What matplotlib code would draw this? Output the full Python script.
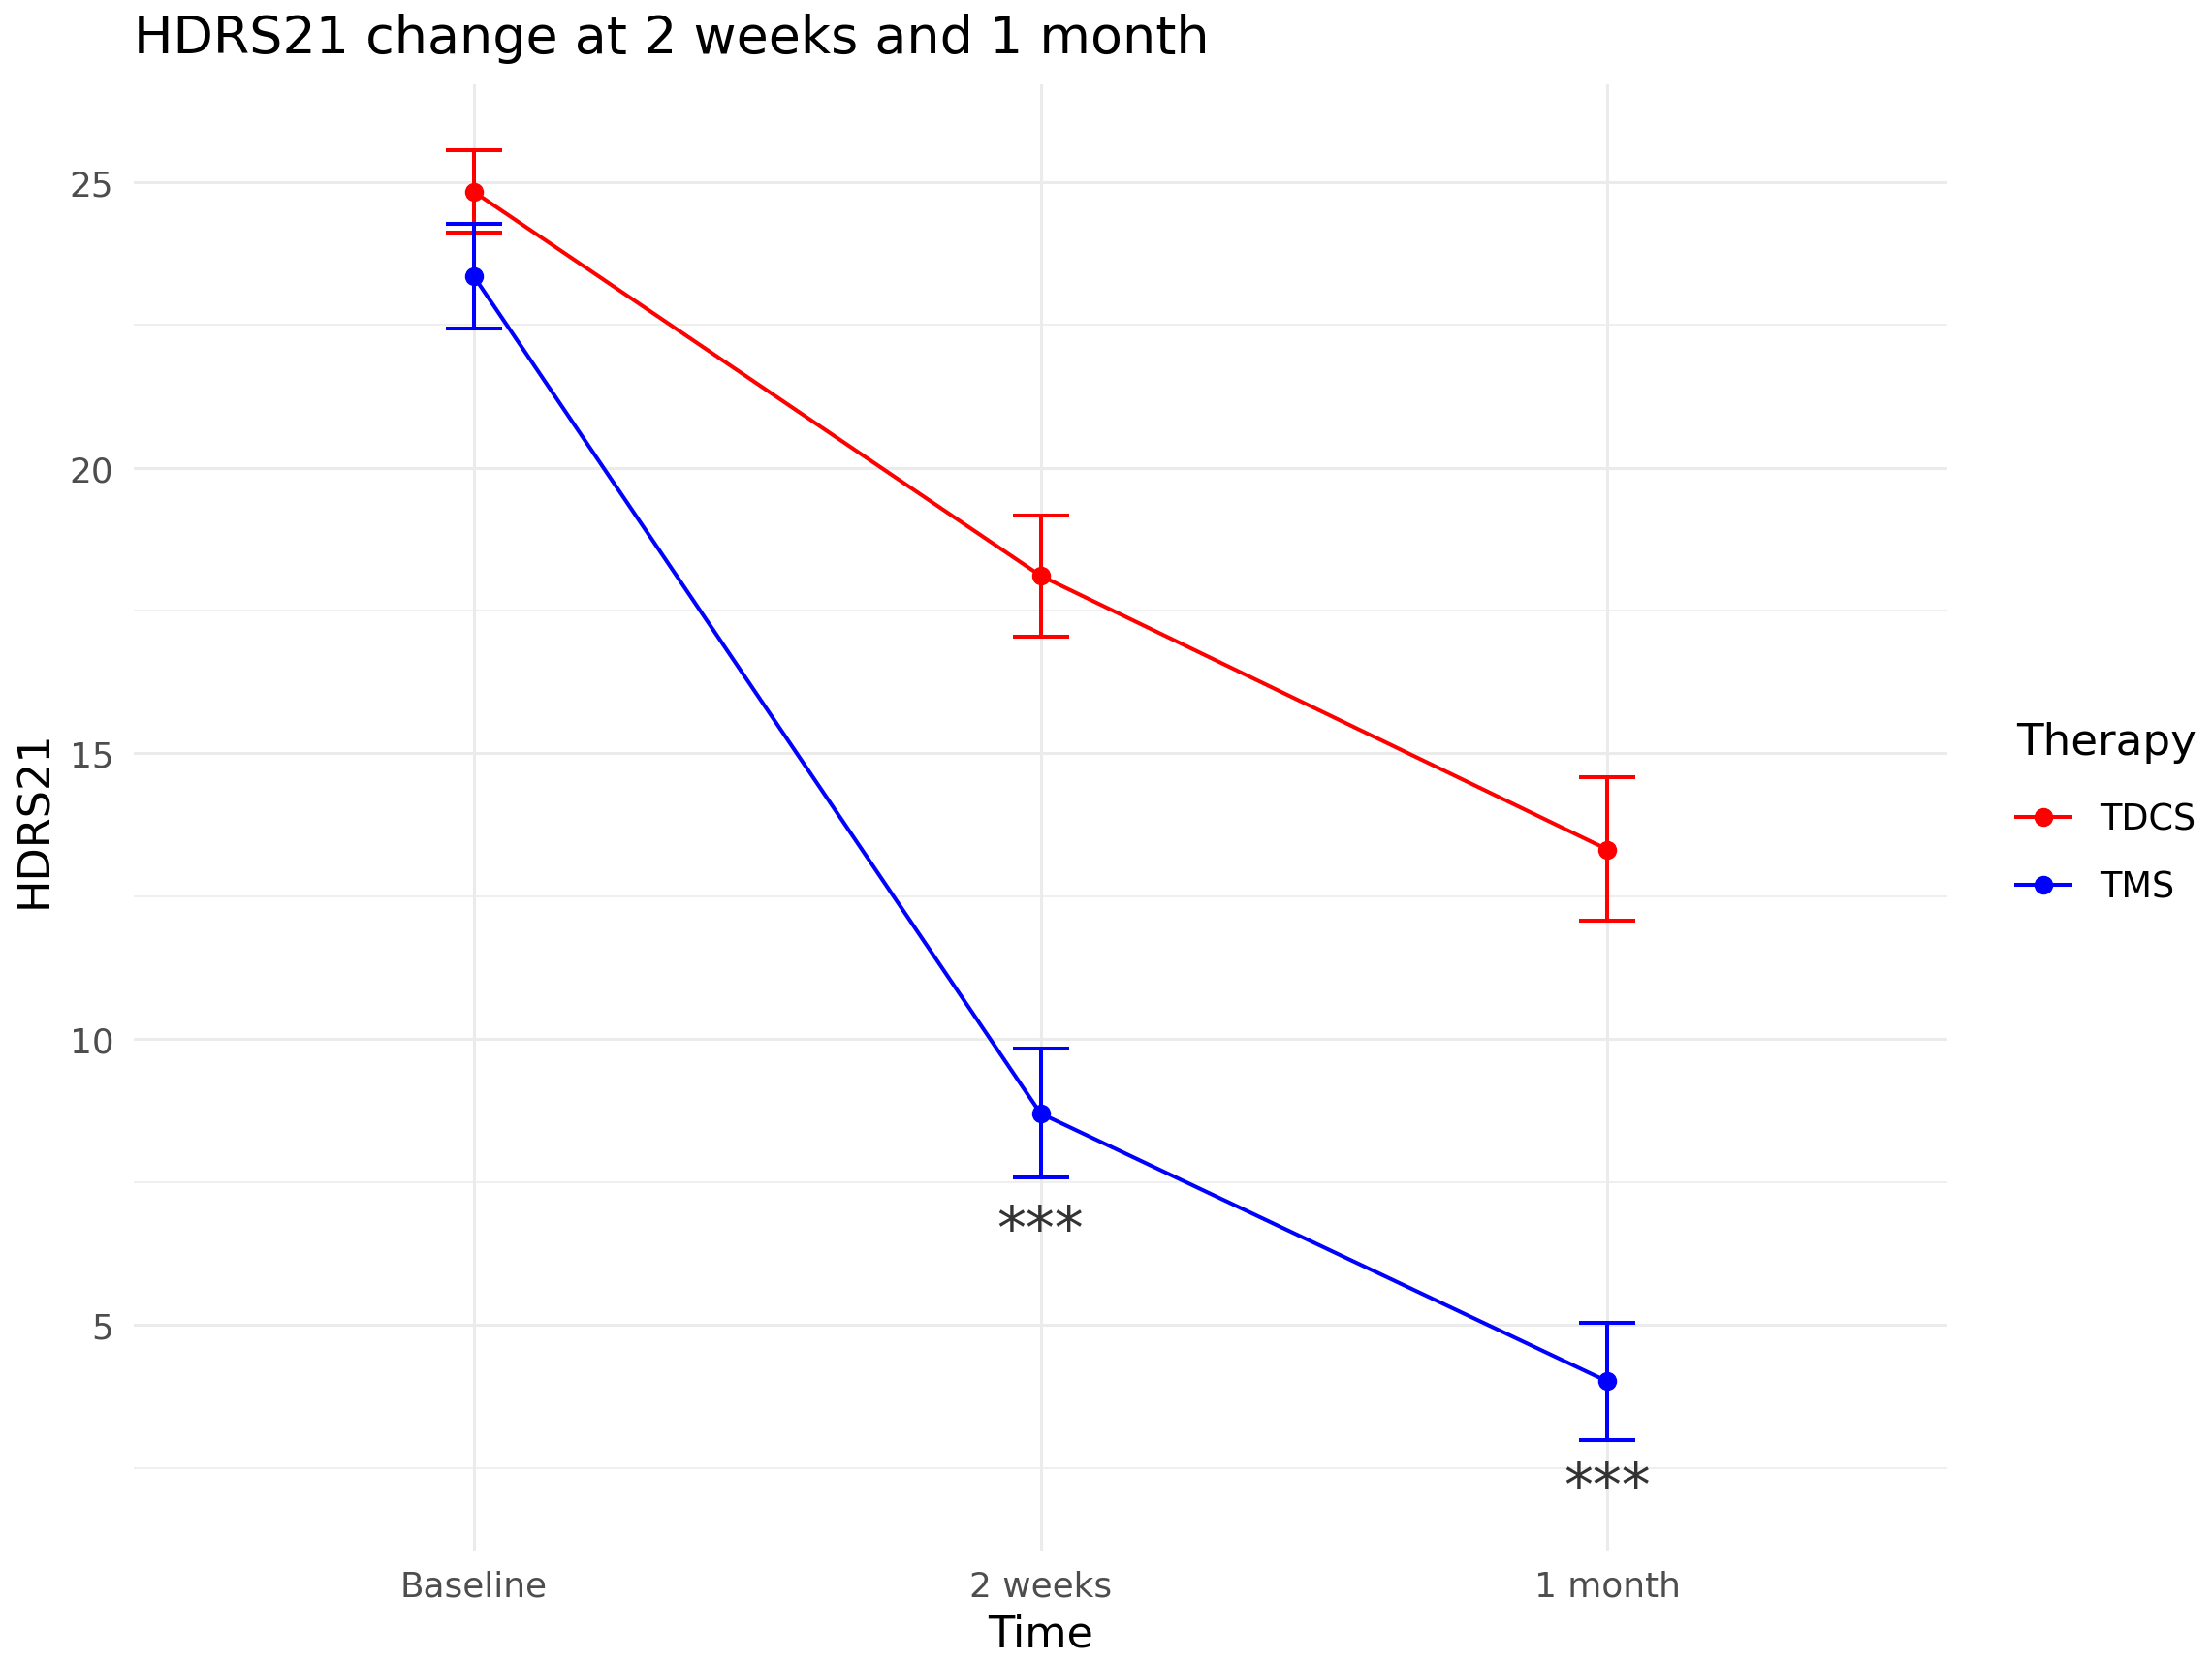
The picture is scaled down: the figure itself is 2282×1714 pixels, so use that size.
import matplotlib
matplotlib.use("Agg")
import matplotlib.pyplot as plt
from matplotlib.lines import Line2D

plt.rcParams['font.family'] = ['DejaVu Sans']

# ---- data ----
timepoints = ["Baseline", "2 weeks", "1 month"]
therapies = ["TDCS", "TMS"]
tdcs_mean = [24.83, 18.11, 13.32]
tdcs_lower = [24.12, 17.05, 12.07]
tdcs_upper = [25.55, 19.17, 14.58]
tms_mean = [23.35, 8.70, 4.01]
tms_lower = [22.44, 7.58, 2.99]
tms_upper = [24.27, 9.84, 5.04]
colors = {"TDCS": "#FF0000", "TMS": "#0000FF"}
sig_labels = ["***", "***"]
sig_pos = ["2 weeks", "1 month"]
sig_y = [6.36, 1.86]
y_major = [5, 10, 15, 20, 25]
y_minor = [2.5, 7.5, 12.5, 17.5, 22.5]

W, H = 2282, 1715
fig = plt.figure(figsize=(W / 100, H / 100), dpi=100)
L, R, T, B = 138, 2009, 88, 1602
ax = fig.add_axes([L / W, 1 - B / H, (R - L) / W, (B - T) / H])

x = list(range(len(timepoints)))
ax.set_xlim(-0.6, 2.6)
ax.set_ylim(1.033, 26.71)

for s in ax.spines.values():
    s.set_visible(False)
ax.set_xticks(x)
ax.set_xticklabels(timepoints)
ax.set_yticks(y_major)
ax.set_yticks(y_minor, minor=True)
ax.tick_params(which='both', length=0)
ax.tick_params(axis='y', pad=15, labelsize=25.8, labelcolor='#4D4D4D')
ax.tick_params(axis='x', pad=13, labelsize=25.8, labelcolor='#4D4D4D')
ax.grid(which='major', color='#EBEBEB', linewidth=2.2, zorder=0)
ax.grid(which='minor', axis='y', color='#EBEBEB', linewidth=1.1, zorder=0)
ax.set_axisbelow(True)

series = {
    "TDCS": (tdcs_mean, tdcs_lower, tdcs_upper),
    "TMS": (tms_mean, tms_lower, tms_upper),
}
handles = []
for name in therapies:
    m, lo, up = series[name]
    yerr = [[mi - li for mi, li in zip(m, lo)], [ui - mi for mi, ui in zip(m, up)]]
    ax.errorbar(x, m, yerr=yerr, color=colors[name], lw=2.9, capsize=20.9,
                capthick=2.9, marker='o', ms=13, zorder=3)
    handles.append(Line2D([], [], color=colors[name], lw=2.9, marker='o', ms=13))

for lab, pos, yy in zip(sig_labels, sig_pos, sig_y):
    ax.text(timepoints.index(pos), yy, lab, ha='center', va='baseline',
            fontsize=43, color='#333333', zorder=4)

fig.text(L / W, 1 - 55 / H, "HDRS21 change at 2 weeks and 1 month",
         fontsize=38.8, color='black', ha='left', va='baseline')
fig.text(36 / W, 1 - 845 / H, "HDRS21", rotation=90, fontsize=32,
         ha='center', va='center', color='black')
fig.text((L + R) / 2 / W, 1 - 1700 / H, "Time", fontsize=32,
         ha='center', va='baseline', color='black')

leg = ax.legend(handles, therapies, title="Therapy", loc='upper left',
                bbox_to_anchor=(2080 / W, 1 - 745 / H), bbox_transform=fig.transFigure,
                frameon=False, fontsize=26.4, title_fontsize=32.5,
                handlelength=1.53, handletextpad=0.82, labelspacing=0.9,
                borderaxespad=0, borderpad=0)
leg._legend_box.align = "left"
leg._legend_box.sep = 0.9 * 26.4 + 5

fig.savefig("out.png", dpi=100, facecolor='white')
